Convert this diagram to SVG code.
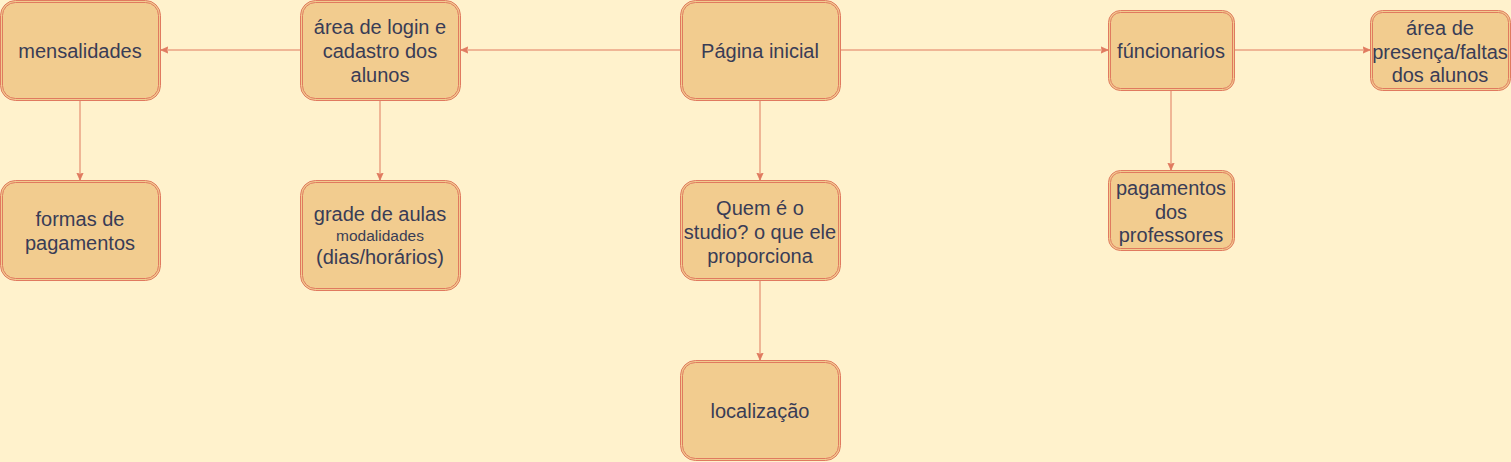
<svg xmlns="http://www.w3.org/2000/svg" width="1511" height="462" viewBox="0 0 1511 462">
<defs>
<style>
.o{fill:#F2CC8F;stroke:#E07A5F;stroke-width:1}
.i{fill:none;stroke:#E07A5F;stroke-width:1}
text{font-family:"Liberation Sans",Arial,sans-serif;font-size:20px;fill:#393C56;text-anchor:middle}
.s{font-size:15.5px}
.e{fill:none;stroke:#E07A5F;stroke-width:1;marker-end:url(#a)}
</style>
<marker id="a" viewBox="0 0 10 10" refX="9" refY="5" markerWidth="8" markerHeight="8" markerUnits="userSpaceOnUse" orient="auto">
<path d="M0,1 L9,5 L0,9 L2,5 Z" fill="#E07A5F" stroke="#E07A5F" stroke-width="1"/>
</marker>
</defs>
<rect width="1511" height="462" fill="#FFF2CC"/>
<g id="connectors">
<path class="e" d="M681,50 H461"/>
<path class="e" d="M301,50 H161"/>
<path class="e" d="M80,100 V180"/>
<path class="e" d="M380,100 V180"/>
<path class="e" d="M760,100 V180"/>
<path class="e" d="M760,280 V360"/>
<path class="e" d="M840,50 H1108"/>
<path class="e" d="M1234,50 H1370"/>
<path class="e" d="M1171,90 V170"/>
</g>
<g id="mensalidades">
<rect class="o" x="0.5" y="0.5" width="160" height="100" rx="15"/>
<rect class="i" x="2.5" y="2.5" width="156" height="96" rx="13"/>
<text x="80" y="58">mensalidades</text>
</g>
<g id="login">
<rect class="o" x="300.5" y="0.5" width="160" height="100" rx="15"/>
<rect class="i" x="302.5" y="2.5" width="156" height="96" rx="13"/>
<text x="380" y="34">área de login e</text>
<text x="380" y="58">cadastro dos</text>
<text x="380" y="82">alunos</text>
</g>
<g id="inicial">
<rect class="o" x="680.5" y="0.5" width="160" height="100" rx="15"/>
<rect class="i" x="682.5" y="2.5" width="156" height="96" rx="13"/>
<text x="760" y="58">Página inicial</text>
</g>
<g id="funcionarios">
<rect class="o" x="1108.5" y="10.5" width="126" height="80" rx="12"/>
<rect class="i" x="1110.5" y="12.5" width="122" height="76" rx="10"/>
<text x="1171" y="58">fúncionarios</text>
</g>
<g id="presenca">
<rect class="o" x="1370.5" y="10.5" width="140" height="80" rx="12"/>
<rect class="i" x="1372.5" y="12.5" width="136" height="76" rx="10"/>
<text x="1440" y="35">área de</text>
<text x="1440" y="59">presença/faltas</text>
<text x="1440" y="82">dos alunos</text>
</g>
<g id="pagamentos-professores">
<rect class="o" x="1108.5" y="170.5" width="126" height="80" rx="12"/>
<rect class="i" x="1110.5" y="172.5" width="122" height="76" rx="10"/>
<text x="1171" y="195">pagamentos</text>
<text x="1171" y="219">dos</text>
<text x="1171" y="242">professores</text>
</g>
<g id="formas">
<rect class="o" x="0.5" y="180.5" width="160" height="100" rx="15"/>
<rect class="i" x="2.5" y="182.5" width="156" height="96" rx="13"/>
<text x="80" y="226">formas de</text>
<text x="80" y="250">pagamentos</text>
</g>
<g id="grade">
<rect class="o" x="300.5" y="180.5" width="160" height="110" rx="15"/>
<rect class="i" x="302.5" y="182.5" width="156" height="106" rx="13"/>
<text x="380" y="221">grade de aulas</text>
<text class="s" x="380" y="241">modalidades</text>
<text x="380" y="264">(dias/horários)</text>
</g>
<g id="quem">
<rect class="o" x="680.5" y="180.5" width="160" height="100" rx="15"/>
<rect class="i" x="682.5" y="182.5" width="156" height="96" rx="13"/>
<text x="760" y="215">Quem é o</text>
<text x="760" y="239">studio? o que ele</text>
<text x="760" y="263">proporciona</text>
</g>
<g id="localizacao">
<rect class="o" x="680.5" y="360.5" width="160" height="100" rx="15"/>
<rect class="i" x="682.5" y="362.5" width="156" height="96" rx="13"/>
<text x="760" y="418">localização</text>
</g>
</svg>
